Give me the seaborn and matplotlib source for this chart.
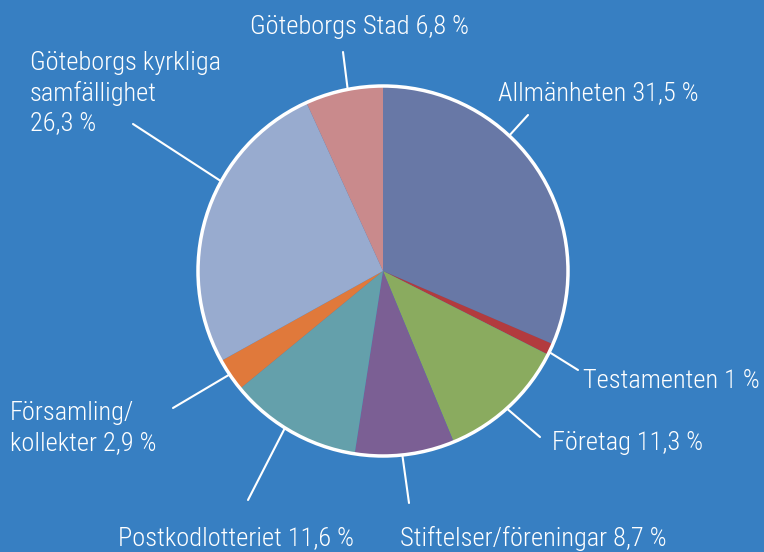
import matplotlib
matplotlib.use('Agg')
import matplotlib.pyplot as plt
import seaborn as sns
import numpy as np
from matplotlib.patches import Circle

# Data
labels = ['Allmänheten 31,5 %', 'Testamenten 1 %', 'Företag 11,3 %',
          'Stiftelser/föreningar 8,7 %', 'Postkodlotteriet 11,6 %',
          'Församling/\nkollekter 2,9 %', 'Göteborgs kyrkliga\nsamfällighet\n26,3 %',
          'Göteborgs Stad 6,8 %']
shares = [31.5, 1.0, 11.3, 8.7, 11.6, 2.9, 26.3, 6.8]
colors = ['#6878a6', '#b23b3e', '#8aab5f', '#7b5f94', '#64a0ab',
          '#e0793b', '#98abcf', '#c98a8c']

# Layout (pixels): edge angle of leader line, line end, text anchor
line_angle = [47, -26, -48, -84, -122, -146, 151, 101]
line_end = [(528, 115), (578, 370), (540, 437), (409, 503), (248, 500),
            (173, 408), (133, 124), (343, 52)]
text_pos = [(498, 93, 'left'), (583, 381, 'left'), (552, 443, 'left'),
            (533, 538, 'center'), (236, 538, 'center'), (10, 428, 'left'),
            (30, 93, 'left'), (360, 27, 'center')]

bg = '#377fc2'
sns.set_style('white')
plt.rcParams['font.family'] = ['Roboto Condensed', 'Archivo Narrow', 'DejaVu Sans']

fig = plt.figure(figsize=(7.64, 5.52), dpi=100, facecolor=bg)
ax = fig.add_axes([0, 0, 1, 1])
ax.set_facecolor(bg)

cx, cy, r = 383, 271, 185
# y axis inverted below, so counterclock=True draws clockwise on screen
ax.pie(shares, colors=colors, startangle=-90, counterclock=True,
       center=(cx, cy), radius=r, wedgeprops=dict(linewidth=0))
ax.add_patch(Circle((cx, cy), r, fill=False, edgecolor='white', lw=2.5))

for lab, ang, end, (tx, ty, ha) in zip(labels, line_angle, line_end, text_pos):
    a = np.deg2rad(ang)
    sx, sy = cx + r * np.cos(a), cy - r * np.sin(a)
    ax.plot([sx, end[0]], [sy, end[1]], color='white', lw=1.5)
    ax.text(tx, ty, lab, color='white', fontsize=19, fontweight='light',
            ha=ha, va='center', linespacing=1.3)

ax.set_xlim(0, 764)
ax.set_ylim(552, 0)
ax.set_aspect('equal')
ax.axis('off')

fig.savefig('out.png', dpi=100, facecolor=bg)
